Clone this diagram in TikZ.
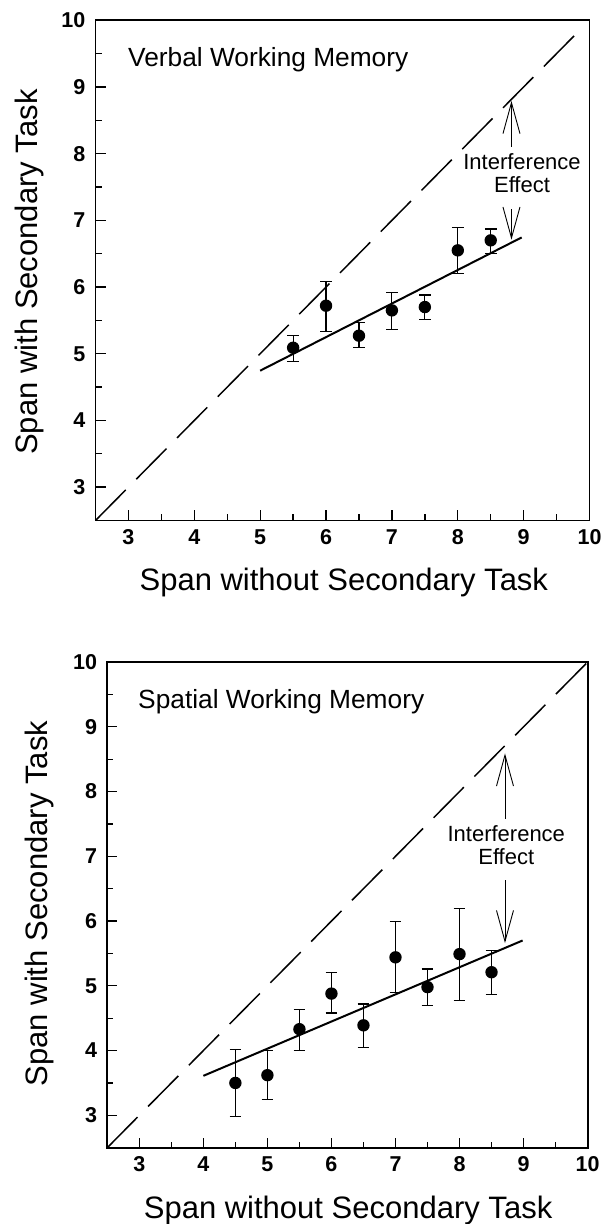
\documentclass[tikz,border=0pt]{standalone}
\usepackage{fontspec}
\setmainfont{Liberation Sans}
\usetikzlibrary{arrows.meta,positioning}

\newcommand{\spanframe}{%
  \draw[frame] (2.5,2.5) rectangle (10,10);
  \foreach \t in {3,...,9}
    \draw[axtick] (\t,2.5) -- ++(0pt,10pt) (2.5,\t) -- ++(10pt,0pt);
  \foreach \t in {3.5,4.5,...,9.5}
    \draw[axtick] (\t,2.5) -- ++(0pt,6pt) (2.5,\t) -- ++(6pt,0pt);
  \foreach \t in {3,...,10} {
    \node[ticklbl, below=9pt] (xt\t) at (\t,2.5) {\t};
    \node[ticklbl, left=10pt] (yt\t) at (2.5,\t) {\t};
  }%
}

\begin{document}
\begin{tikzpicture}[x=1pt,y=1pt,>=latex,
    frame/.style={line width=1.8pt},
    axtick/.style={line width=1.3pt},
    diag/.style={line width=1.5pt, dash pattern=on 43pt off 15pt},
    fitline/.style={line width=2pt},
    errbar/.style={line width=1.1pt},
    effarrow/.style={line width=0.6pt, -{Straight Barb[length=31pt,width=17pt,line width=0.9pt]}},
    ticklbl/.style={font=\fontsize{21.5}{24}\bfseries\selectfont, inner sep=0pt},
    axlabel/.style={font=\fontsize{31}{36}\selectfont, inner sep=0pt},
    paneltitle/.style={font=\fontsize{26.3}{30}\selectfont, inner sep=0pt, anchor=base west},
    efftext/.style={font=\fontsize{22}{24}\selectfont, inner sep=0pt, anchor=base}]
  \useasboundingbox (0,0) rectangle (610,1224);

  % verbal
  \begin{scope}[shift={(-69.175pt,536.75pt)}, x=65.87pt, y=66.7pt, name prefix=verb-]
    \spanframe
    \draw[diag] (2.5,2.5) -- (9.82,9.82);
    \foreach \sx/\sy/\lo/\hi in {5.5/5.09/4.88/5.28, 6/5.72/5.34/6.08, 6.5/5.27/5.09/5.47,
        7/5.65/5.37/5.92, 7.5/5.70/5.51/5.88, 8/6.55/6.20/6.89, 8.5/6.70/6.50/6.87} {
      \draw[errbar] (\sx,\lo) -- (\sx,\hi)
        ([xshift=-5.8pt]\sx,\lo) -- ([xshift=5.8pt]\sx,\lo)
        ([xshift=-5.8pt]\sx,\hi) -- ([xshift=5.8pt]\sx,\hi);
      \fill (\sx,\sy) circle (6.2pt);
    }
    \draw[fitline] (5,4.746) -- (8.97,6.744);
    \node[paneltitle] (title) at (2.993,9.30) {Verbal Working Memory};
    \node[efftext] (interf) at (8.975,7.755) {Interference};
    \node[efftext] (effect) at (8.975,7.415) {Effect};
    \coordinate (upfoot) at (8.815,8.10);
    \coordinate (uptip) at (8.815,8.79);
    \coordinate (downfoot) at (8.815,7.17);
    \coordinate (downtip) at (8.815,6.71);
    \draw[effarrow] (upfoot) -- (uptip);
    \draw[effarrow] (downfoot) -- (downtip);
    \node[axlabel, anchor=base] (xlab) at (6.27,1.444) {Span without Secondary Task};
    \node[axlabel, rotate=90, anchor=north] (ylab) at (1.27,6.225) {Span with Secondary Task};
  \end{scope}

  % spatial
  \begin{scope}[shift={(-52.8pt,-85.575pt)}, x=64.04pt, y=64.75pt, name prefix=spat-]
    \spanframe
    \draw[diag] (2.5,2.5) -- (10,10);
    \foreach \sx/\sy/\lo/\hi in {4.5/3.50/2.98/4.02, 5/3.62/3.24/4.00, 5.5/4.33/4.00/4.63,
        6/4.88/4.58/5.21, 6.5/4.39/4.05/4.72, 7/5.44/4.89/5.99, 7.5/4.98/4.69/5.26,
        8/5.49/4.77/6.20, 8.5/5.21/4.87/5.55} {
      \draw[errbar] (\sx,\lo) -- (\sx,\hi)
        ([xshift=-5.8pt]\sx,\lo) -- ([xshift=5.8pt]\sx,\lo)
        ([xshift=-5.8pt]\sx,\hi) -- ([xshift=5.8pt]\sx,\hi);
      \fill (\sx,\sy) circle (6.2pt);
    }
    \draw[fitline] (4,3.61) -- (8.985,5.70);
    \node[paneltitle] (title) at (2.98,9.29) {Spatial Working Memory};
    \node[efftext] (interf) at (8.73,7.23) {Interference};
    \node[efftext] (effect) at (8.73,6.87) {Effect};
    \coordinate (upfoot) at (8.71,7.58);
    \coordinate (uptip) at (8.71,8.59);
    \coordinate (downfoot) at (8.71,6.63);
    \coordinate (downtip) at (8.71,5.66);
    \draw[effarrow] (upfoot) -- (uptip);
    \draw[effarrow] (downfoot) -- (downtip);
    \node[axlabel, anchor=base] (xlab) at (6.26,1.399) {Span without Secondary Task};
    \node[axlabel, rotate=90, anchor=north] (ylab) at (1.215,6.27) {Span with Secondary Task};
  \end{scope}
\end{tikzpicture}
\end{document}
